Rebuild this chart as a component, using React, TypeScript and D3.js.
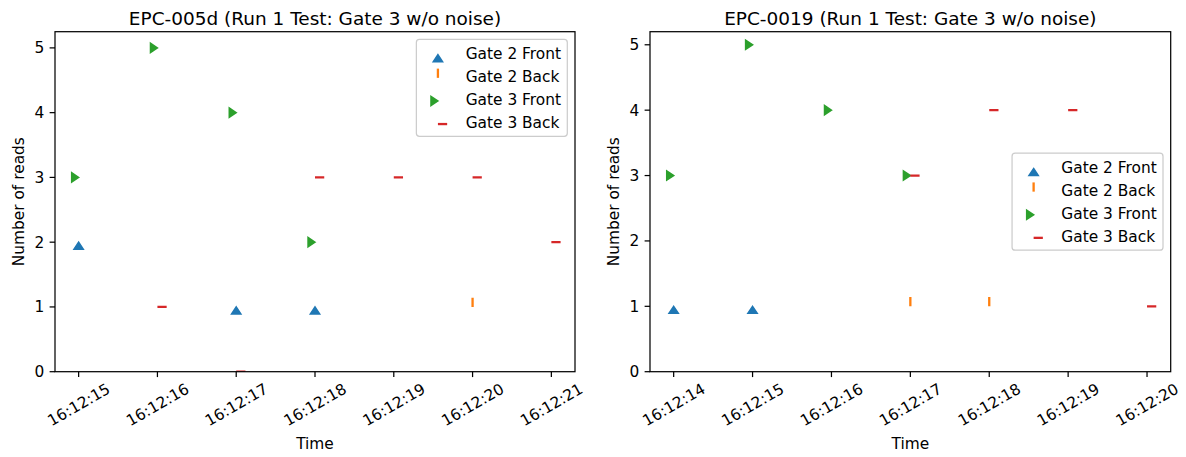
import React from "react";
import * as d3 from "d3";

// ---------- data ----------
const seriesNames = ["Gate 2 Front", "Gate 2 Back", "Gate 3 Front", "Gate 3 Back"];
const seriesColors = ["#1f77b4", "#ff7f0e", "#2ca02c", "#d62728"];
const seriesMarkers = ["caretup", "tickup", "caretright", "tickright"];

// Panel A
const titleA = "EPC-005d (Run 1 Test: Gate 3 w/o noise)";
const tickLabelsA = ["16:12:15", "16:12:16", "16:12:17", "16:12:18", "16:12:19", "16:12:20", "16:12:21"];
const g2FrontTimesA = ["16:12:15", "16:12:17", "16:12:18"];
const g2FrontReadsA = [2, 1, 1];
const g2BackTimesA = ["16:12:20"];
const g2BackReadsA = [1];
const g3FrontTimesA = ["16:12:15", "16:12:16", "16:12:17", "16:12:18"];
const g3FrontReadsA = [3, 5, 4, 2];
const g3BackTimesA = ["16:12:16", "16:12:17", "16:12:18", "16:12:19", "16:12:20", "16:12:21"];
const g3BackReadsA = [1, 0, 3, 3, 3, 2];

// Panel B
const titleB = "EPC-0019 (Run 1 Test: Gate 3 w/o noise)";
const tickLabelsB = ["16:12:14", "16:12:15", "16:12:16", "16:12:17", "16:12:18", "16:12:19", "16:12:20"];
const g2FrontTimesB = ["16:12:14", "16:12:15"];
const g2FrontReadsB = [1, 1];
const g2BackTimesB = ["16:12:17", "16:12:18"];
const g2BackReadsB = [1, 1];
const g3FrontTimesB = ["16:12:14", "16:12:15", "16:12:16", "16:12:17"];
const g3FrontReadsB = [3, 5, 4, 3];
const g3BackTimesB = ["16:12:17", "16:12:18", "16:12:19", "16:12:20"];
const g3BackReadsB = [3, 4, 4, 1];

const xLabel = "Time";
const yLabel = "Number of reads";

// ---------- style ----------
const FONT = "DejaVu Sans, sans-serif";
const PT = 1.54; // px per point
const FS = 10 * PT;
const TITLE_FS = 12 * PT;
const MS = 6 * PT; // marker size
const AX_TOP = 31.7;
const AX_BOTTOM = 371.7;

const parse = d3.timeParse("%H:%M:%S");

type Series = { times: string[]; reads: number[] };

function Marker({ kind, x, y, color }: { kind: string; x: number; y: number; color: string }) {
  const s = MS;
  if (kind === "caretup") {
    const p = `M${x},${y}L${x + s / 2},${y + 0.75 * s}L${x - s / 2},${y + 0.75 * s}Z`;
    return <path d={p} fill={color} stroke={color} strokeWidth={1.0 * PT} strokeLinejoin="miter" />;
  }
  if (kind === "caretright") {
    const p = `M${x},${y}L${x - 0.75 * s},${y + s / 2}L${x - 0.75 * s},${y - s / 2}Z`;
    return <path d={p} fill={color} stroke={color} strokeWidth={1.0 * PT} strokeLinejoin="miter" />;
  }
  if (kind === "tickup") {
    return <line x1={x} y1={y} x2={x} y2={y - s} stroke={color} strokeWidth={1.5 * PT} />;
  }
  return <line x1={x} y1={y} x2={x + s} y2={y} stroke={color} strokeWidth={1.5 * PT} />;
}

function Panel({
  id,
  left,
  right,
  title,
  tickLabels,
  series,
  legendPos,
}: {
  id: string;
  left: number;
  right: number;
  title: string;
  tickLabels: string[];
  series: Series[];
  legendPos: "upper right" | "center right";
}) {
  const allTimes = series.flatMap((s) => s.times.map((t) => parse(t)!.getTime()));
  const allReads = series.flatMap((s) => s.reads);
  const [tMin, tMax] = d3.extent(allTimes) as [number, number];
  const [rMin, rMax] = d3.extent(allReads) as [number, number];
  const tPad = (tMax - tMin) * 0.05;
  const rPad = (rMax - rMin) * 0.05;

  const x = d3.scaleTime().domain([new Date(tMin - tPad), new Date(tMax + tPad)]).range([left, right]);
  const y = d3.scaleLinear().domain([0, rMax + rPad]).range([AX_BOTTOM, AX_TOP]);
  const yTicks = y.ticks(6).filter((v) => Number.isInteger(v));

  const tickLen = 3.5 * PT;
  const tickPad = 3.5 * PT;
  const cx = (left + right) / 2;

  // legend
  const bpad = 0.4 * FS;
  const lspace = 0.5 * FS;
  const hlen = 2 * FS;
  const htpad = 0.8 * FS;
  const textW = 95.5;
  const legW = bpad + hlen + htpad + textW + bpad;
  const legH = bpad * 2 + 4 * FS + 3 * lspace;
  const legRight = right - 0.5 * FS;
  const legLeft = legRight - legW;
  const legTop =
    legendPos === "upper right" ? AX_TOP + 0.5 * FS : (AX_TOP + AX_BOTTOM) / 2 - legH / 2;

  return (
    <g>
      <defs>
        <clipPath id={`clip-${id}`}>
          <rect x={left} y={AX_TOP} width={right - left} height={AX_BOTTOM - AX_TOP} />
        </clipPath>
      </defs>
      {/* title */}
      <text x={cx} y={24.5} textAnchor="middle" fontSize={TITLE_FS} fontFamily={FONT} fill="#000">
        {title}
      </text>
      {/* markers */}
      <g clipPath={`url(#clip-${id})`}>
        {series.map((s, si) =>
          s.times.map((t, i) => (
            <Marker
              key={`${si}-${i}`}
              kind={seriesMarkers[si]}
              x={x(parse(t)!)}
              y={y(s.reads[i])}
              color={seriesColors[si]}
            />
          ))
        )}
      </g>
      {/* spines */}
      <rect
        x={left}
        y={AX_TOP}
        width={right - left}
        height={AX_BOTTOM - AX_TOP}
        fill="none"
        stroke="#000"
        strokeWidth={0.8 * PT}
      />
      {/* y ticks */}
      {yTicks.map((v) => (
        <g key={`y${v}`}>
          <line x1={left - tickLen} x2={left} y1={y(v)} y2={y(v)} stroke="#000" strokeWidth={0.8 * PT} />
          <text
            x={left - tickLen - tickPad}
            y={y(v) + 0.36 * FS}
            textAnchor="end"
            fontSize={FS}
            fontFamily={FONT}
            fill="#000"
          >
            {v}
          </text>
        </g>
      ))}
      {/* x ticks */}
      {tickLabels.map((lab) => {
        const xp = x(parse(lab)!);
        return (
          <g key={lab}>
            <line x1={xp} x2={xp} y1={AX_BOTTOM} y2={AX_BOTTOM + tickLen} stroke="#000" strokeWidth={0.8 * PT} />
            <text
              transform={`translate(${xp},${AX_BOTTOM + tickLen + tickPad + 22}) rotate(-30)`}
              textAnchor="middle"
              dy={0.36 * FS}
              fontSize={FS}
              fontFamily={FONT}
              fill="#000"
            >
              {lab}
            </text>
          </g>
        );
      })}
      {/* axis labels */}
      <text x={cx} y={449} textAnchor="middle" fontSize={FS} fontFamily={FONT} fill="#000">
        {xLabel}
      </text>
      <text
        transform={`translate(${left - 31},${(AX_TOP + AX_BOTTOM) / 2}) rotate(-90)`}
        textAnchor="middle"
        fontSize={FS}
        fontFamily={FONT}
        fill="#000"
      >
        {yLabel}
      </text>
      {/* legend */}
      <rect
        x={legLeft}
        y={legTop}
        width={legW}
        height={legH}
        rx={0.2 * FS}
        fill="#fff"
        fillOpacity={0.8}
        stroke="#cccccc"
        strokeWidth={1 * PT * 0.8}
      />
      {seriesNames.map((name, i) => {
        const rowC = legTop + bpad + i * (FS + lspace) + FS / 2;
        const hx = legLeft + bpad + hlen / 2;
        return (
          <g key={name}>
            <Marker kind={seriesMarkers[i]} x={hx} y={rowC + 1.5} color={seriesColors[i]} />
            <text
              x={legLeft + bpad + hlen + htpad}
              y={rowC + 0.36 * FS}
              fontSize={FS}
              fontFamily={FONT}
              fill="#000"
            >
              {name}
            </text>
          </g>
        );
      })}
    </g>
  );
}

export default function App() {
  const seriesA: Series[] = [
    { times: g2FrontTimesA, reads: g2FrontReadsA },
    { times: g2BackTimesA, reads: g2BackReadsA },
    { times: g3FrontTimesA, reads: g3FrontReadsA },
    { times: g3BackTimesA, reads: g3BackReadsA },
  ];
  const seriesB: Series[] = [
    { times: g2FrontTimesB, reads: g2FrontReadsB },
    { times: g2BackTimesB, reads: g2BackReadsB },
    { times: g3FrontTimesB, reads: g3FrontReadsB },
    { times: g3BackTimesB, reads: g3BackReadsB },
  ];
  return (
    <svg
      width={1186}
      height={457}
      style={{ position: "absolute", left: 0, top: 0, background: "#fff" }}
    >
      <rect x={0} y={0} width={1186} height={457} fill="#fff" />
      <Panel
        id="a"
        left={55}
        right={575}
        title={titleA}
        tickLabels={tickLabelsA}
        series={seriesA}
        legendPos="upper right"
      />
      <Panel
        id="b"
        left={650}
        right={1170.7}
        title={titleB}
        tickLabels={tickLabelsB}
        series={seriesB}
        legendPos="center right"
      />
    </svg>
  );
}
